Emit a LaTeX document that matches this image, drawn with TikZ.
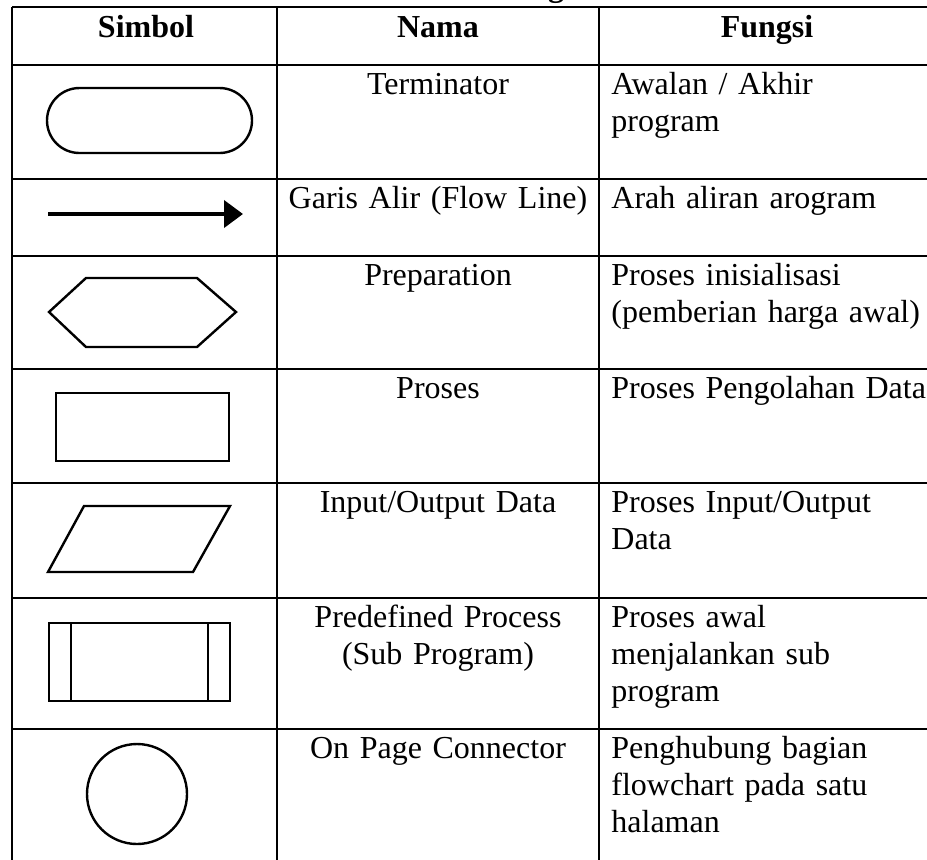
\documentclass[tikz,border=0pt]{standalone}
\usepackage{fontspec}
\setmainfont{Liberation Serif}
\usepackage{tikz}
\usetikzlibrary{arrows.meta}
\newcommand{\tabfont}{\fontsize{16pt}{18.4pt}\selectfont}
\tikzset{
	head/.style={font=\tabfont\bfseries, anchor=base, inner sep=0pt},
	nama/.style={font=\tabfont, text width=155pt, align=center, anchor=base, inner sep=0pt},
	fungsi/.style={font=\tabfont, text width=170pt, align=left, anchor=base west, inner sep=0pt}
}
\tikzstyle{tabline} = [line width=1.3pt, black]
\tikzstyle{simbol} = [line width=1.2pt, black, line join=miter]
\tikzstyle{flow} = [line width=2pt, black, -{Triangle[length=9.5pt,width=13.5pt]}]

\begin{document}
\begin{tikzpicture}[x=0.5pt, y=-0.5pt]
  \useasboundingbox (0,0) rectangle (927,859);

  % Caption (cut off)
  \node[head] (cap) at (556,-4) {g};

  % Grid
  \foreach \y in {7,65,179,256,369,483,598,729}
    \draw[tabline] (12,\y) -- (940,\y);
  \foreach \x in {12,277,599}
    \draw[tabline] (\x,7) -- (\x,870);

  % Header
  \node[head] (h-simbol) at (146,37)  {Simbol};
  \node[head] (h-nama)   at (438,37)  {Nama};
  \node[head] (h-fungsi) at (767,37)  {Fungsi};

  % Nama
  \node[nama] (n-term) at (438,94.5)  {Terminator};
  \node[nama] (n-flow) at (438,208.5) {Garis Alir (Flow Line)};
  \node[nama] (n-prep) at (438,285.5) {Preparation};
  \node[nama] (n-proc) at (438,398.5) {Proses};
  \node[nama] (n-io)   at (438,512.5) {Input/Output Data};
  \node[nama] (n-pre)  at (438,627.5) {Predefined Process\\(Sub Program)};
  \node[nama] (n-conn) at (438,758.5) {On Page Connector};

  % Fungsi
  \node[fungsi] (f-term) at (611,94.5)  {Awalan / Akhir\\program};
  \node[fungsi] (f-flow) at (611,208.5) {Arah aliran arogram};
  \node[fungsi] (f-prep) at (611,285.5) {Proses inisialisasi\\(pemberian harga awal)};
  \node[fungsi] (f-proc) at (611,398.5) {Proses Pengolahan Data};
  \node[fungsi] (f-io)   at (611,512.5) {Proses Input/Output\\Data};
  \node[fungsi] (f-pre)  at (611,627.5) {Proses awal\\menjalankan sub\\program};
  \node[fungsi] (f-conn) at (611,758.5) {Penghubung bagian\\flowchart pada satu\\halaman};

  % Symbols
  \draw[simbol, rounded corners=16.25pt] (47,88) rectangle (252,153);
  \coordinate (fl-start) at (48,214);
  \coordinate (fl-end)   at (243,214);
  \draw[flow] (fl-start) -- (fl-end);
  \draw[simbol] (49,312) -- (86,278) -- (197,278) -- (236,312) -- (197,347) -- (86,347) -- cycle;
  \draw[simbol] (56,393) rectangle (229,461);
  \draw[simbol] (84,506) -- (230,506) -- (193,572) -- (48,572) -- cycle;
  \draw[simbol] (49,623) rectangle (230,701);
  \draw[simbol] (71,623) -- (71,701);
  \draw[simbol] (208,623) -- (208,701);
  \draw[simbol] (137,794) circle [radius=25pt];
\end{tikzpicture}
\end{document}
